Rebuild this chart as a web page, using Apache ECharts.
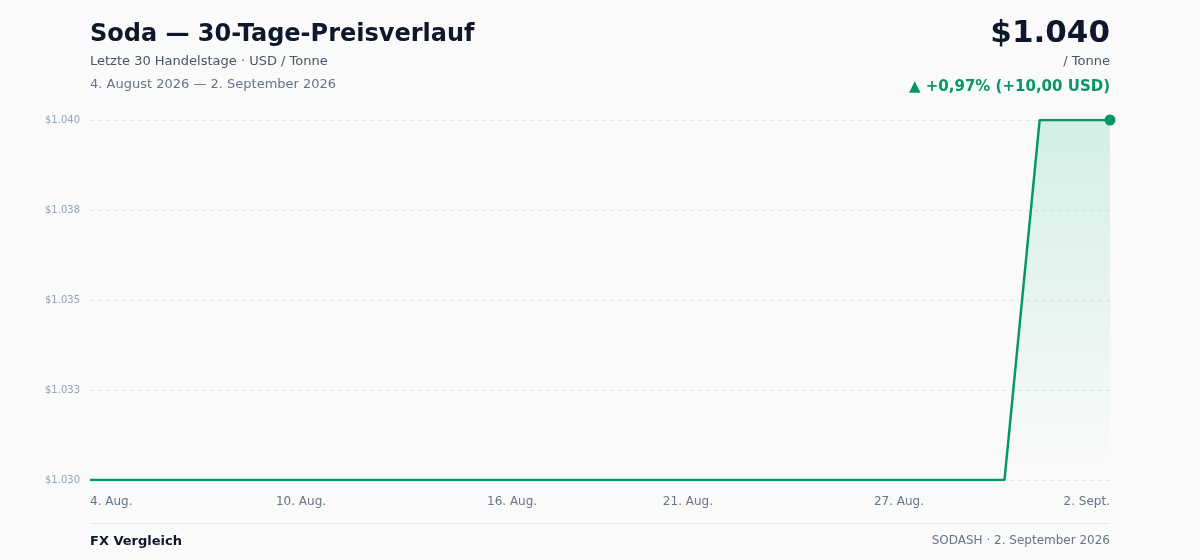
<!DOCTYPE html>
<html>
<head>
<meta charset="utf-8">
<script src="https://cdn.jsdelivr.net/npm/echarts@6/dist/echarts.min.js"></script>
<style>
  html, body { margin: 0; padding: 0; background: #fafafa; }
  #chart { width: 1200px; height: 560px; }
</style>
</head>
<body>
<div id="chart"></div>
<script>
const dates = [
  "4. Aug.", "5. Aug.", "6. Aug.", "7. Aug.", "8. Aug.", "9. Aug.", "10. Aug.",
  "11. Aug.", "12. Aug.", "13. Aug.", "14. Aug.", "15. Aug.", "16. Aug.", "17. Aug.",
  "18. Aug.", "19. Aug.", "20. Aug.", "21. Aug.", "22. Aug.", "23. Aug.", "24. Aug.",
  "25. Aug.", "26. Aug.", "27. Aug.", "28. Aug.", "29. Aug.", "30. Aug.", "31. Aug.",
  "1. Sept.", "2. Sept."
];
const prices = [
  1030, 1030, 1030, 1030, 1030, 1030, 1030, 1030, 1030, 1030,
  1030, 1030, 1030, 1030, 1030, 1030, 1030, 1030, 1030, 1030,
  1030, 1030, 1030, 1030, 1030, 1030, 1030, 1040, 1040, 1040
];
const labelIndices = [0, 6, 12, 17, 23, 29];
const yMin = 1030, yMax = 1040, yStep = 2.5;

const green = '#079669';
function fmt(v) {
  const n = Math.round(v).toString();
  return '$' + n.replace(/\B(?=(\d{3})+(?!\d))/g, '.');
}

const chart = echarts.init(document.getElementById('chart'));
chart.setOption({
  backgroundColor: '#fafafa',
  animation: false,
  textStyle: { fontFamily: 'DejaVu Sans' },
  grid: { left: 90, right: 90, top: 120, bottom: 80, containLabel: false },
  graphic: [
    { type: 'text', left: 90, top: 23, style: { text: 'Soda — 30-Tage-Preisverlauf', fontSize: 24, fontWeight: 'bold', fill: '#0f172a', fontFamily: 'DejaVu Sans' } },
    { type: 'text', left: 90, top: 55, style: { text: 'Letzte 30 Handelstage · USD / Tonne', fontSize: 13, fill: '#475569', fontFamily: 'DejaVu Sans' } },
    { type: 'text', left: 90, top: 78, style: { text: '4. August 2026 — 2. September 2026', fontSize: 13, fill: '#64748b', fontFamily: 'DejaVu Sans' } },
    { type: 'text', right: 90, top: 18, style: { text: '$1.040', fontSize: 31, fontWeight: 'bold', fill: '#0f172a', fontFamily: 'DejaVu Sans' } },
    { type: 'text', right: 90, top: 55, style: { text: '/ Tonne', fontSize: 13, fill: '#475569', fontFamily: 'DejaVu Sans' } },
    { type: 'text', right: 90, top: 80, style: { text: '▲ +0,97% (+10,00 USD)', fontSize: 15, fontWeight: 'bold', fill: green, fontFamily: 'DejaVu Sans' } },
    { type: 'line', shape: { x1: 90, y1: 523.5, x2: 1110, y2: 523.5 }, style: { stroke: '#e5e7eb', lineWidth: 1 } },
    { type: 'text', left: 90, top: 535, style: { text: 'FX Vergleich', fontSize: 13, fontWeight: 'bold', fill: '#0f172a', fontFamily: 'DejaVu Sans' } },
    { type: 'text', right: 90, top: 535, style: { text: 'SODASH · 2. September 2026', fontSize: 12, fill: '#64748b', fontFamily: 'DejaVu Sans' } }
  ],
  xAxis: {
    type: 'category',
    data: dates,
    boundaryGap: false,
    axisLine: { show: false },
    axisTick: { show: false },
    axisLabel: {
      interval: function (i) { return labelIndices.indexOf(i) >= 0; },
      color: '#64748b',
      fontSize: 12,
      margin: 16,
      alignMinLabel: 'left',
      alignMaxLabel: 'right'
    },
    splitLine: { show: false }
  },
  yAxis: {
    type: 'value',
    min: yMin,
    max: yMax,
    interval: yStep,
    axisLine: { show: false },
    axisTick: { show: false },
    axisLabel: { formatter: fmt, color: '#94a3b8', fontSize: 10, margin: 10 },
    splitLine: { lineStyle: { color: '#e5e7eb', type: [4, 4], width: 1 } }
  },
  series: [{
    type: 'line',
    data: prices,
    showSymbol: true,
    showAllSymbol: true,
    symbol: 'circle',
    symbolSize: function (v, p) { return p.dataIndex === prices.length - 1 ? 11 : 0; },
    itemStyle: { color: green },
    lineStyle: { color: green, width: 2.5 },
    areaStyle: {
      color: new echarts.graphic.LinearGradient(0, 0, 0, 1, [
        { offset: 0, color: 'rgba(16,185,129,0.24)' },
        { offset: 1, color: 'rgba(16,185,129,0.0)' }
      ])
    }
  }]
});
</script>
</body>
</html>
